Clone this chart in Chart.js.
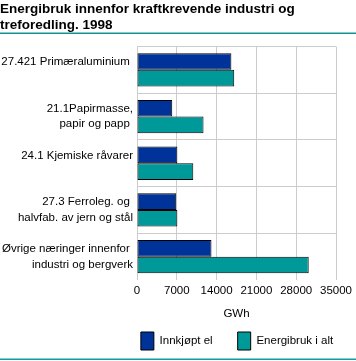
<!DOCTYPE html>
<html><head><meta charset="utf-8">
<script src="https://cdn.jsdelivr.net/npm/chart.js@4"></script>
<style>html,body{margin:0;padding:0;background:#fff;overflow:hidden}#wrap{width:356px;height:361px;position:relative}canvas{display:block}</style>
</head><body><div id="wrap"><canvas id="c" width="356" height="361"></canvas></div>
<script>
const categories = [
  ["27.421 Primæraluminium ", ""],
  ["21.1Papirmasse,", "papir og papp "],
  ["24.1 Kjemiske råvarer", ""],
  ["27.3 Ferroleg. og ", "halvfab. av jern og stål"],
  ["Øvrige næringer innenfor ", "industri og bergverk"]
];
const seriesNames = ["Innkjøpt el", "Energibruk i alt"];
const innkjoptEl = [16600, 6200, 7100, 6900, 13100];
const energibrukIAlt = [17100, 11700, 9900, 7100, 30200];
const xTicks = [0, 7000, 14000, 21000, 28000, 35000];
const titleLines = ["Energibruk innenfor kraftkrevende industri og", "treforedling. 1998"];
const axisTitle = "GWh";

const FONT = "'Liberation Sans', Arial, sans-serif";

const decor = {
  id: 'decor',
  afterLayout(chart) {
    const lg = chart.legend;
    if (lg) {
      lg.left += 69; lg.right += 69; lg.top -= 18;
    }
  },
  afterDraw(chart) {
    const ctx = chart.ctx;
    ctx.save();
    ctx.fillStyle = '#139393';
    ctx.fillRect(0, 32.5, 356, 1.5);
    ctx.fillStyle = '#0e9e9e';
    ctx.fillRect(0, 358.5, 356, 1.5);
    ctx.restore();
  }
};

new Chart(document.getElementById('c'), {
  type: 'bar',
  data: {
    labels: categories,
    datasets: [
      { label: seriesNames[0], data: innkjoptEl, backgroundColor: '#003399', borderColor: '#000', borderWidth: 1, borderSkipped: false, categoryPercentage: 0.714, barPercentage: 1 },
      { label: seriesNames[1], data: energibrukIAlt, backgroundColor: '#009999', borderColor: '#000', borderWidth: 1, borderSkipped: false, categoryPercentage: 0.714, barPercentage: 1 }
    ]
  },
  plugins: [decor],
  options: {
    indexAxis: 'y',
    responsive: false,
    animation: false,
    devicePixelRatio: 1,
    layout: { padding: { left: 0, right: 20, top: 0, bottom: 0 } },
    plugins: {
      tooltip: { enabled: false },
      title: {
        display: true, text: titleLines, align: 'start', color: '#000',
        font: { family: FONT, size: 13.5, weight: 'bold', lineHeight: '16px' },
        padding: { top: 1, bottom: 13.5 }
      },
      legend: {
        position: 'bottom', maxHeight: 36,
        labels: { color: '#000', boxWidth: 13, boxHeight: 18, padding: 25, font: { family: FONT, size: 11.5 } }
      }
    },
    scales: {
      x: {
        min: 0, max: 35000,
        afterBuildTicks(scale) { scale.ticks = xTicks.map(v => ({ value: v })); },
        afterFit(scale) { scale.height = 45; },
        ticks: { color: '#000', padding: 4, font: { family: FONT, size: 11.5 }, callback: v => String(v) },
        grid: { color: '#cccccc', drawTicks: false },
        border: { display: false },
        title: { display: true, text: axisTitle, color: '#000', font: { family: FONT, size: 11.5 }, padding: { top: 0, bottom: 4 } }
      },
      y: {
        afterFit(scale) { scale.width = 137; },
        ticks: { color: '#000', padding: 4, autoSkip: false, font: { family: FONT, size: 11.5, lineHeight: '15.5px' } },
        grid: { color: ctx => (ctx.type === 'tick' ? '#cccccc' : 'rgba(0,0,0,0)'), drawTicks: false, offset: true },
        border: { display: false }
      }
    }
  }
});
</script></body></html>
